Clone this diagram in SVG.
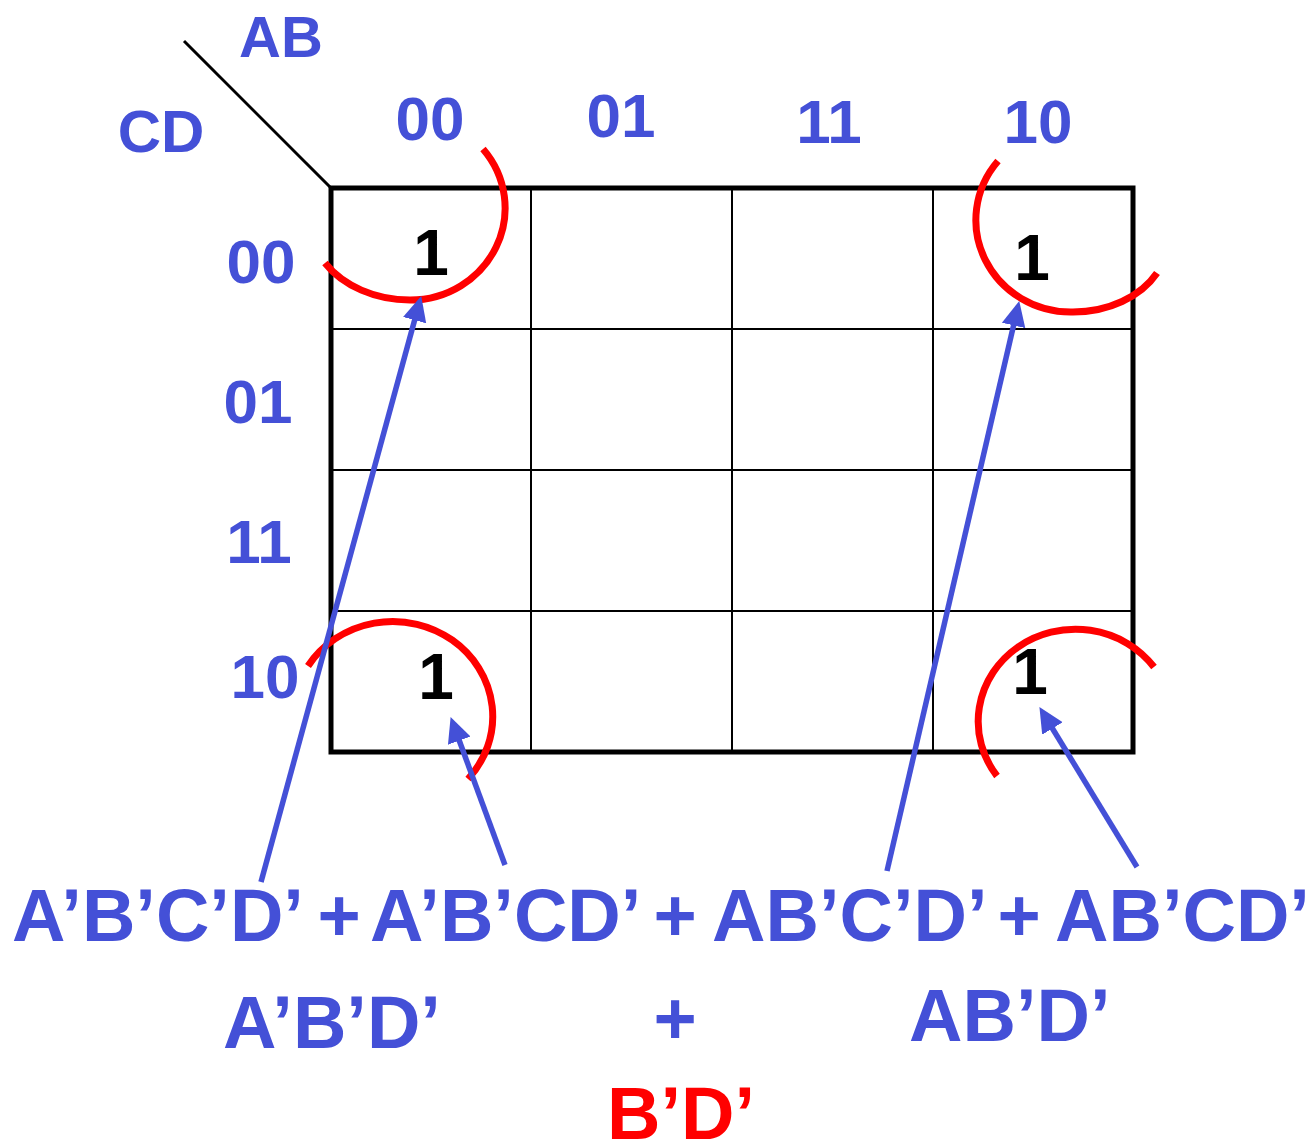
<svg xmlns="http://www.w3.org/2000/svg" width="1311" height="1144" viewBox="0 0 1311 1144">
<style>
.lbl{font-family:"Liberation Sans",Arial,sans-serif;font-weight:bold;fill:#4450D7}
.one{font-family:"Liberation Sans",Arial,sans-serif;font-weight:bold;fill:#000;font-size:64px;text-anchor:middle}
.expr{font-family:"Liberation Sans",Arial,sans-serif;font-weight:bold;fill:#4450D7;font-size:74px}
.red{fill:#FF0000}
.arc{fill:none;stroke:#FF0000;stroke-width:7}
.arr{stroke:#4450D7;stroke-width:5.5;fill:none;marker-end:url(#ah)}
</style>
<defs>
<marker id="ah" markerUnits="userSpaceOnUse" viewBox="0 -13 27 26" markerWidth="27" markerHeight="26" refX="12" refY="0" orient="auto">
<path d="M0,-12 L25,0 L0,12 z" fill="#4450D7"/>
</marker>
</defs>
<rect width="1311" height="1144" fill="#fff"/>
<g id="grid">
<line x1="184" y1="41" x2="331" y2="188" stroke="#000" stroke-width="3"/>
<g stroke="#000" stroke-width="2">
<line x1="531" y1="188" x2="531" y2="752"/>
<line x1="732" y1="188" x2="732" y2="752"/>
<line x1="933" y1="188" x2="933" y2="752"/>
<line x1="331" y1="329" x2="1133" y2="329"/>
<line x1="331" y1="470" x2="1133" y2="470"/>
<line x1="331" y1="611" x2="1133" y2="611"/>
</g>
<rect x="331" y="188" width="802" height="564" fill="none" stroke="#000" stroke-width="5"/>
</g>
<g id="headers">
<text class="lbl" x="281" y="57" font-size="58" text-anchor="middle">AB</text>
<text class="lbl" x="161" y="152" font-size="60" text-anchor="middle">CD</text>
<g font-size="62" text-anchor="middle">
<text class="lbl" x="430" y="140">00</text>
<text class="lbl" x="621" y="137">01</text>
<text class="lbl" x="829" y="143">11</text>
<text class="lbl" x="1038" y="143">10</text>
<text class="lbl" x="261" y="283">00</text>
<text class="lbl" x="258" y="423">01</text>
<text class="lbl" x="259" y="563">11</text>
<text class="lbl" x="265" y="698">10</text>
</g>
</g>
<g id="cells">
<text class="one" x="431" y="275">1</text>
<text class="one" x="1032" y="280">1</text>
<text class="one" x="436" y="699">1</text>
<text class="one" x="1030" y="694">1</text>
</g>
<g id="groups">
<path class="arc" d="M483,149 A95,92 0 0,1 410,300 A100,78 0 0,1 325,263"/>
<path class="arc" d="M998,161 A95,92 0 0,0 1073,312 A95,73 0 0,0 1157,273"/>
<path class="arc" d="M308,666 A100,95 0 1,1 468,779"/>
<path class="arc" d="M1154,667 A97,92 0 1,0 997,776"/>
</g>
<g id="connectors">
<line class="arr" x1="261" y1="882" x2="417.8" y2="308.6"/>
<line class="arr" x1="505" y1="865" x2="455.1" y2="729.3"/>
<line class="arr" x1="887" y1="871" x2="1016.3" y2="313.7"/>
<line class="arr" x1="1137" y1="867" x2="1046.2" y2="718.2"/>
</g>
<g id="expression">
<text class="expr" x="12" y="941">A’B’C’D’</text>
<text class="expr" x="339" y="941" text-anchor="middle">+</text>
<text class="expr" x="370" y="941">A’B’CD’</text>
<text class="expr" x="675" y="941" text-anchor="middle">+</text>
<text class="expr" x="712" y="941">AB’C’D’</text>
<text class="expr" x="1019" y="941" text-anchor="middle">+</text>
<text class="expr" x="1055" y="941">AB’CD’</text>
<text class="expr" x="223" y="1048">A’B’D’</text>
<text class="expr" x="675" y="1044" text-anchor="middle">+</text>
<text class="expr" x="909" y="1041">AB’D’</text>
<text class="expr red" x="607" y="1139">B’D’</text>
</g>
</svg>
